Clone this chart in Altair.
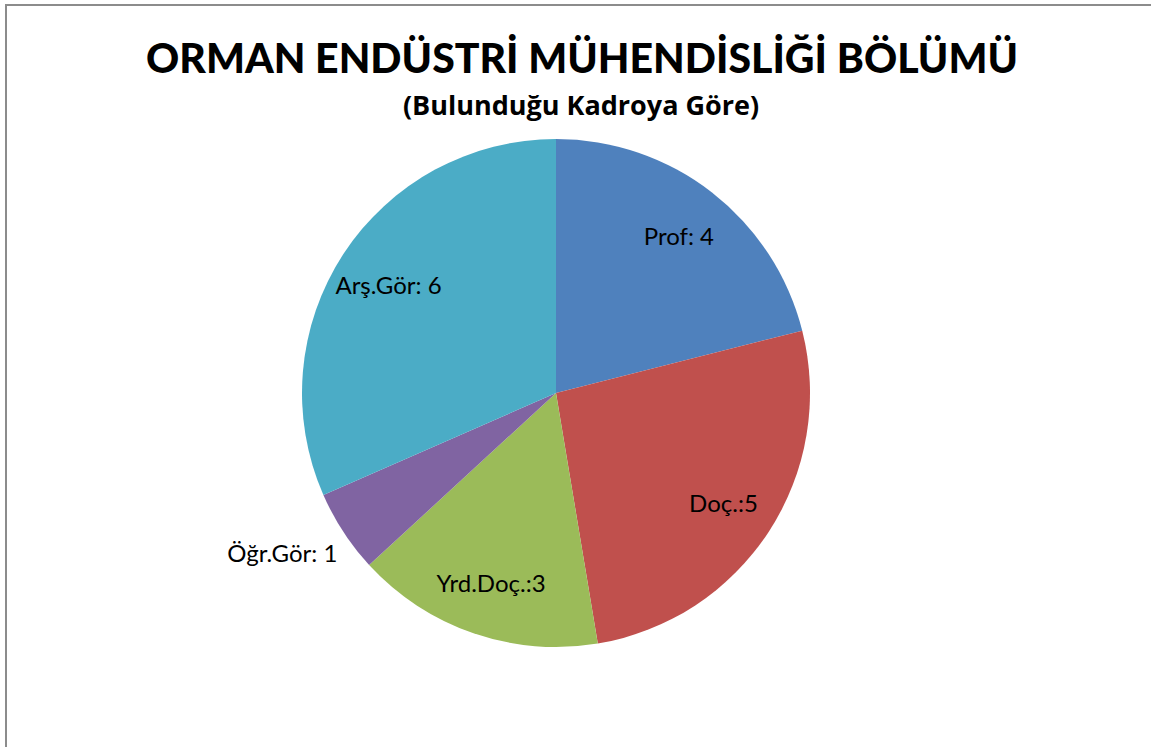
import altair as alt
import pandas as pd

categories = ["Prof", "Doç.", "Yrd.Doç.", "Öğr.Gör", "Arş.Gör"]
values = [4, 5, 3, 1, 6]
labels_inside = ["Prof: 4", "Doç.:5", "Yrd.Doç.:3", "", "Arş.Gör: 6"]
labels_outside = ["", "", "", "Öğr.Gör: 1", ""]
colors = ["#4F81BD", "#C0504D", "#9BBB59", "#8064A2", "#4BACC6"]
title_text = "ORMAN ENDÜSTRİ MÜHENDİSLİĞİ BÖLÜMÜ"
subtitle_text = "(Bulunduğu Kadroya Göre)"

df = pd.DataFrame({
    "cat": categories,
    "value": values,
    "order": list(range(len(categories))),
    "lin": labels_inside,
    "lout": labels_outside,
})
one = pd.DataFrame({"a": [0]})

CX, CY, R = 556, 393, 254
FONT = "Lato"

base = alt.Chart(df).encode(
    theta=alt.Theta("value:Q", stack=True),
    order=alt.Order("order:Q"),
)

pie = base.mark_arc(outerRadius=R, x=CX, y=CY).encode(
    color=alt.Color("cat:N", scale=alt.Scale(domain=categories, range=colors), legend=None)
)

text_in = base.mark_text(radius=200, x=CX, y=CY, dy=3, font=FONT, fontSize=24, color="black").encode(
    text="lin:N"
)
text_out = base.mark_text(radius=285, x=CX, y=CY, dx=20, dy=6, align="right",
                          font=FONT, fontSize=24, color="black").encode(text="lout:N")

border = alt.Chart(one).mark_rect(fillOpacity=0, stroke="#8c8c8c", strokeWidth=2).encode(
    x=alt.value(6), x2=alt.value(1200), y=alt.value(5), y2=alt.value(800)
)

title = alt.Chart(one).mark_text(font=FONT, fontSize=41, fontWeight=900, color="black",
                                 baseline="alphabetic", align="center").encode(
    x=alt.value(582), y=alt.value(73), text=alt.value(title_text)
)
subtitle = alt.Chart(one).mark_text(font="Open Sans", fontSize=27, fontWeight="bold", color="black",
                                    baseline="alphabetic", align="center").encode(
    x=alt.value(581), y=alt.value(115), text=alt.value(subtitle_text)
)

chart = alt.layer(border, pie, text_in, text_out, title, subtitle).properties(
    width=1151, height=747, padding=0, autosize="none", background="white"
).configure_view(stroke=None)

chart.save("out.html", embed_options={"renderer": "svg", "actions": False})
